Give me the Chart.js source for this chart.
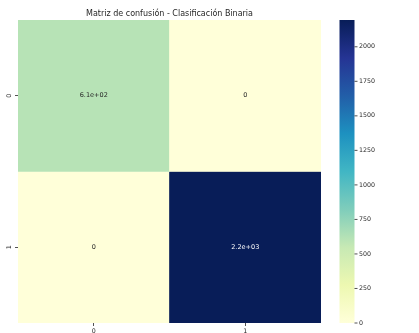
<!DOCTYPE html>
<html>
<head>
<meta charset="utf-8">
<script src="https://cdn.jsdelivr.net/npm/chart.js@4"></script>
<style>
  html, body { margin:0; padding:0; background:#fff; }
  #wrap { width:419px; height:333px; }
</style>
</head>
<body>
<div id="wrap"><canvas id="cm" width="419" height="333"></canvas></div>
<script>
// --- datos de la matriz ---
const rowLabels = ['0', '1'];
const colLabels = ['0', '1'];
const row0 = [610, 0];
const row1 = [0, 2194];
const matrix = [row0, row1];
const vmin = 0;
const vmax = 2194;
const cbarTicks = [0, 250, 500, 750, 1000, 1250, 1500, 1750, 2000];
const title = 'Matriz de confusión - Clasificación Binaria';

// mapa de color YlGnBu (9 pasos)
const YLGNBU = ['#ffffd9','#edf8b1','#c7e9b4','#7fcdbb','#41b6c4','#1d91c0','#225ea8','#253494','#081d58'];
const TXT = '#262626';

function hexRgb(h){
  const s = h.replace('#','');
  return [0,2,4].map(i => parseInt(s.substring(i, i+2), 16));
}

function cmap(t){
  t = Math.max(0, Math.min(1, t));
  const n = YLGNBU.length - 1;
  const k = Math.min(n - 1, Math.floor(t * n));
  const f = t * n - k;
  const a = hexRgb(YLGNBU[k]), b = hexRgb(YLGNBU[k+1]);
  const c = a.map((v, i) => Math.round(v + (b[i] - v) * f));
  return `rgb(${c[0]},${c[1]},${c[2]})`;
}

// color de texto igual que seaborn (luminancia relativa)
function textColor(v){
  const rgb = cmap((v - vmin) / (vmax - vmin)).match(/\d+/g).map(Number).map(x => {
    x /= 255;
    return x <= 0.03928 ? x / 12.92 : Math.pow((x + 0.055) / 1.055, 2.4);
  });
  const lum = 0.2126 * rgb[0] + 0.7152 * rgb[1] + 0.0722 * rgb[2];
  return lum > 0.408 ? TXT : '#ffffff';
}

// formato '.2g'
function fmt(v){
  if(v === 0) return '0';
  return v.toPrecision(2).replace(/e([+-])(\d)$/, 'e$10$2');
}

const cellLabels = {
  id: 'cellLabels',
  afterDatasetsDraw(chart){
    const ctx = chart.ctx;
    ctx.save();
    ctx.font = '6.5px "DejaVu Sans"';
    ctx.textAlign = 'center';
    ctx.textBaseline = 'middle';
    chart.data.datasets.forEach((ds, i) => {
      chart.getDatasetMeta(i).data.forEach((bar, j) => {
        const p = bar.getProps(['x', 'y', 'base'], true);
        const v = ds.data[j].v;
        ctx.fillStyle = textColor(v);
        ctx.fillText(fmt(v), p.x, (p.y + p.base) / 2);
      });
    });
    ctx.restore();
  }
};

const colorbar = {
  id: 'colorbar',
  afterDraw(chart){
    const s = chart.scales.cbar;
    const ctx = chart.ctx;
    const x0 = s.left + 18.5, w = 15;
    const yTop = s.getPixelForValue(vmax), yBot = s.getPixelForValue(vmin);
    const g = ctx.createLinearGradient(0, yBot, 0, yTop);
    YLGNBU.forEach((c, k) => g.addColorStop(k / (YLGNBU.length - 1), c));
    ctx.save();
    ctx.fillStyle = g;
    ctx.fillRect(x0, yTop, w, yBot - yTop);
    ctx.strokeStyle = TXT;
    ctx.lineWidth = 0.8;
    s.ticks.forEach(t => {
      const y = s.getPixelForValue(t.value);
      ctx.beginPath();
      ctx.moveTo(x0 + w, y);
      ctx.lineTo(x0 + w + 3, y);
      ctx.stroke();
    });
    ctx.restore();
  }
};

Chart.defaults.font.family = '"DejaVu Sans"';
Chart.defaults.color = TXT;

new Chart(document.getElementById('cm'), {
  type: 'bar',
  data: {
    labels: colLabels,
    datasets: rowLabels.map((r, i) => ({
      label: r,
      data: colLabels.map((c, j) => ({ x: c, y: [i, i + 1], v: matrix[i][j] })),
      backgroundColor: (ctx) => cmap((ctx.raw.v - vmin) / (vmax - vmin)),
      borderWidth: 0,
      borderSkipped: false,
      grouped: false,
      barPercentage: 1,
      categoryPercentage: 1
    }))
  },
  options: {
    responsive: false,
    animation: false,
    events: [],
    layout: { padding: 0 },
    plugins: {
      legend: { display: false },
      tooltip: { enabled: false },
      title: {
        display: true, text: title, fullSize: false,
        color: TXT, font: { size: 8, weight: 'normal' },
        padding: { top: 9.5, bottom: 0.9 }
      }
    },
    scales: {
      x: {
        type: 'category',
        offset: true,
        border: { display: false },
        grid: { offset: false, drawOnChartArea: false, drawTicks: true, tickLength: 3, color: TXT, lineWidth: 0.8 },
        ticks: { font: { size: 6.3 }, padding: 1.5, maxRotation: 0, minRotation: 0 },
        afterFit: (s) => { s.height = 10; }
      },
      y: {
        type: 'linear',
        position: 'left',
        min: 0, max: rowLabels.length,
        reverse: true,
        border: { display: false },
        grid: { drawOnChartArea: false, drawTicks: true, tickLength: 3, color: TXT, lineWidth: 0.8 },
        afterBuildTicks: (s) => { s.ticks = rowLabels.map((r, i) => ({ value: i + 0.5 })); },
        ticks: {
          font: { size: 6.3 }, padding: 4, minRotation: 90, maxRotation: 90, crossAlign: 'center',
          callback: (v) => rowLabels[Math.floor(v)]
        },
        afterFit: (s) => { s.width = 18; }
      },
      cbar: {
        type: 'linear',
        axis: 'y',
        position: 'right',
        min: vmin, max: vmax,
        border: { display: false },
        grid: { display: false, drawTicks: true, tickLength: 36.5 },
        afterBuildTicks: (s) => { s.ticks = cbarTicks.map(v => ({ value: v })); },
        ticks: { font: { size: 6.3 }, padding: 1.5, callback: (v) => String(v) },
        afterFit: (s) => { s.width = 98; }
      }
    }
  },
  plugins: [cellLabels, colorbar]
});
</script>
</body>
</html>
